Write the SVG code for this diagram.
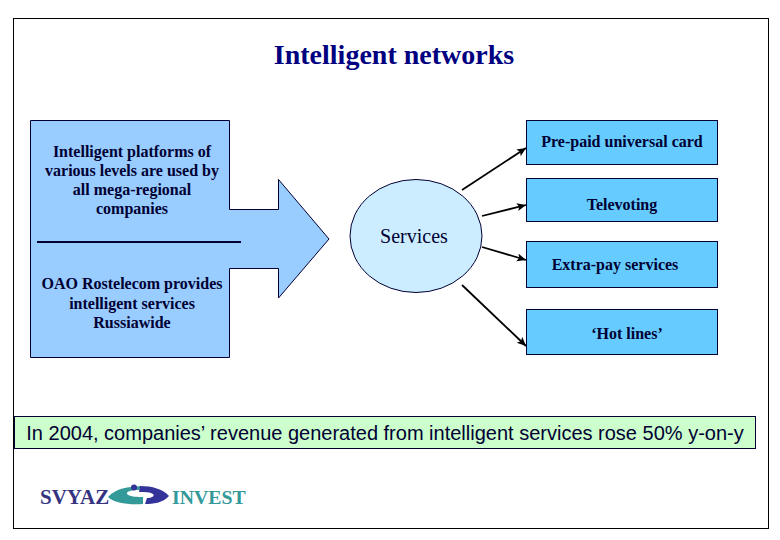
<svg xmlns="http://www.w3.org/2000/svg" width="780" height="540" viewBox="0 0 780 540">
<style>
.s{font-family:"Liberation Serif",serif;font-weight:bold;font-size:16px;fill:#000033;text-anchor:middle}
.b{fill:#66CCFF;stroke:#000033;stroke-width:1}
.c{stroke:#000;stroke-width:1.8;fill:none;marker-end:url(#a)}
</style>
<defs><marker id="a" markerUnits="userSpaceOnUse" markerWidth="10" markerHeight="10" refX="9" refY="4" orient="auto"><path d="M0 0L9 4L0 8L2 4Z" fill="#000"/></marker></defs>
<rect width="780" height="540" fill="#fff"/>
<rect x="13.500" y="18.500" width="755" height="510" fill="#fff" stroke="#000" stroke-width="1"/>
<text x="394" y="64" style="font-family:'Liberation Serif',serif;font-weight:bold;font-size:28px;fill:#000080;text-anchor:middle">Intelligent networks</text>
<g id="platforms">
<path d="M30.500 120.500H229.500V209.500H278.500V179.500L329 239L278.500 298V268.500H229.500V357.500H30.500Z" fill="#99CCFF" stroke="#000033"/>
<path d="M37 242H241" stroke="#000033" stroke-width="2"/>
<text class="s" x="132" y="157">Intelligent platforms of</text>
<text class="s" x="132" y="176">various levels are used by</text>
<text class="s" x="132" y="195">all mega-regional</text>
<text class="s" x="132" y="214">companies</text>
<text class="s" x="132" y="289">OAO Rostelecom provides</text>
<text class="s" x="132" y="309">intelligent services</text>
<text class="s" x="132" y="328">Russiawide</text>
</g>
<g id="services">
<ellipse cx="416" cy="236" rx="66" ry="56.500" fill="#CCECFF" stroke="#000033"/>
<text x="414" y="243" style="font-family:'Liberation Serif',serif;font-size:20px;fill:#000033;text-anchor:middle">Services</text>
</g>
<g id="connectors">
<path class="c" d="M462 190L526 148"/>
<path class="c" d="M482 216L526 205"/>
<path class="c" d="M482 247L526 260"/>
<path class="c" d="M462 285L526 346"/>
</g>
<g id="prepaid"><rect class="b" x="526.500" y="120.500" width="191" height="44"/><text class="s" x="622" y="147">Pre-paid universal card</text></g>
<g id="televoting"><rect class="b" x="526.500" y="178.500" width="191" height="43"/><text class="s" x="622" y="210">Televoting</text></g>
<g id="extrapay"><rect class="b" x="526.500" y="241.500" width="191" height="46"/><text class="s" x="615" y="270">Extra-pay services</text></g>
<g id="hotlines"><rect class="b" x="526.500" y="309.500" width="191" height="45"/><text class="s" x="627" y="339">‘Hot lines’</text></g>
<g id="summary">
<rect x="14.500" y="416.500" width="741" height="32" fill="#CCFFCC" stroke="#000033"/>
<text x="385" y="440" style="font-family:'Liberation Sans',sans-serif;font-size:20px;fill:#000033;text-anchor:middle">In 2004, companies’ revenue generated from intelligent services rose 50% y-on-y</text>
</g>
<g id="logo">
<text x="40" y="504" style="font-family:'Liberation Serif',serif;font-weight:bold;font-size:21px;fill:#333380">SVYAZ</text>
<path d="M108 497C116 488 128 487 141 486L139 490C130 490 126 492 127 494C130 497 138 497 143 497L143 504C128 505 114 503 108 497Z" fill="#339999"/>
<circle cx="134" cy="487.500" r="3" fill="#333399"/>
<path d="M140 486C152 486 163 489 169 496C163 503 153 504 145 504L147 498C152 498 155 496 153 494C150 492 145 492 139 492Z" fill="#333399"/>
<text x="172" y="504" style="font-family:'Liberation Serif',serif;font-weight:bold;font-size:19.800px;fill:#339999">INVEST</text>
</g>
</svg>
